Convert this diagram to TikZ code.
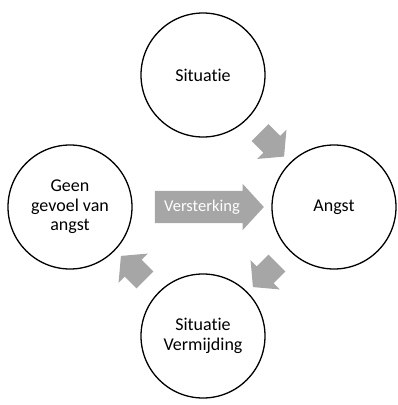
\documentclass[tikz,border=0pt]{standalone}
\usepackage{fontspec}
\setmainfont{Carlito}[Ligatures=NoCommon]
\usetikzlibrary{shapes.arrows,calc}
\definecolor{pijlgrijs}{RGB}{166,166,166}
\tikzset{
  stap/.style={circle, draw, line width=1.3pt, minimum size=124pt, inner sep=0pt,
    align=center, font=\fontsize{18}{19.5}\selectfont},
  pijl/.style={single arrow, fill=pijlgrijs, draw=none, minimum height=34pt,
    single arrow head extend=8.7pt, single arrow tip angle=100,
    inner xsep=0pt, inner ysep=11.8pt},
}
\begin{document}
\begin{tikzpicture}[x=1pt,y=-1pt]
      \useasboundingbox (0,0) rectangle (398,405);
      \node[stap] (sit) at (203,75) {Situatie};
      \node[stap] (angst) at (334,207) {Angst};
      \node[stap] (verm) at (203,336) {Situatie\\Vermijding};
      \node[stap] (geen) at (70,207) {Geen\\gevoel van\\angst};
      % pijlen tussen de stappen
      \node[pijl, rotate=-45] (p1) at ($(sit)!0.5!(angst)$) {};
      \node[pijl, rotate=-135] (p2) at ($(angst)!0.5!(verm)$) {};
      \node[pijl, rotate=135] (p3) at ($(verm)!0.5!(geen)$) {};
      \node[pijl, minimum height=109pt, inner ysep=8.7pt, single arrow head extend=7pt,
        single arrow tip angle=95, text=white, font=\fontsize{16.5}{18}\selectfont]
        (vers) at ($(geen)!0.5!(angst)$) {Versterking};
    \end{tikzpicture}
\end{document}
